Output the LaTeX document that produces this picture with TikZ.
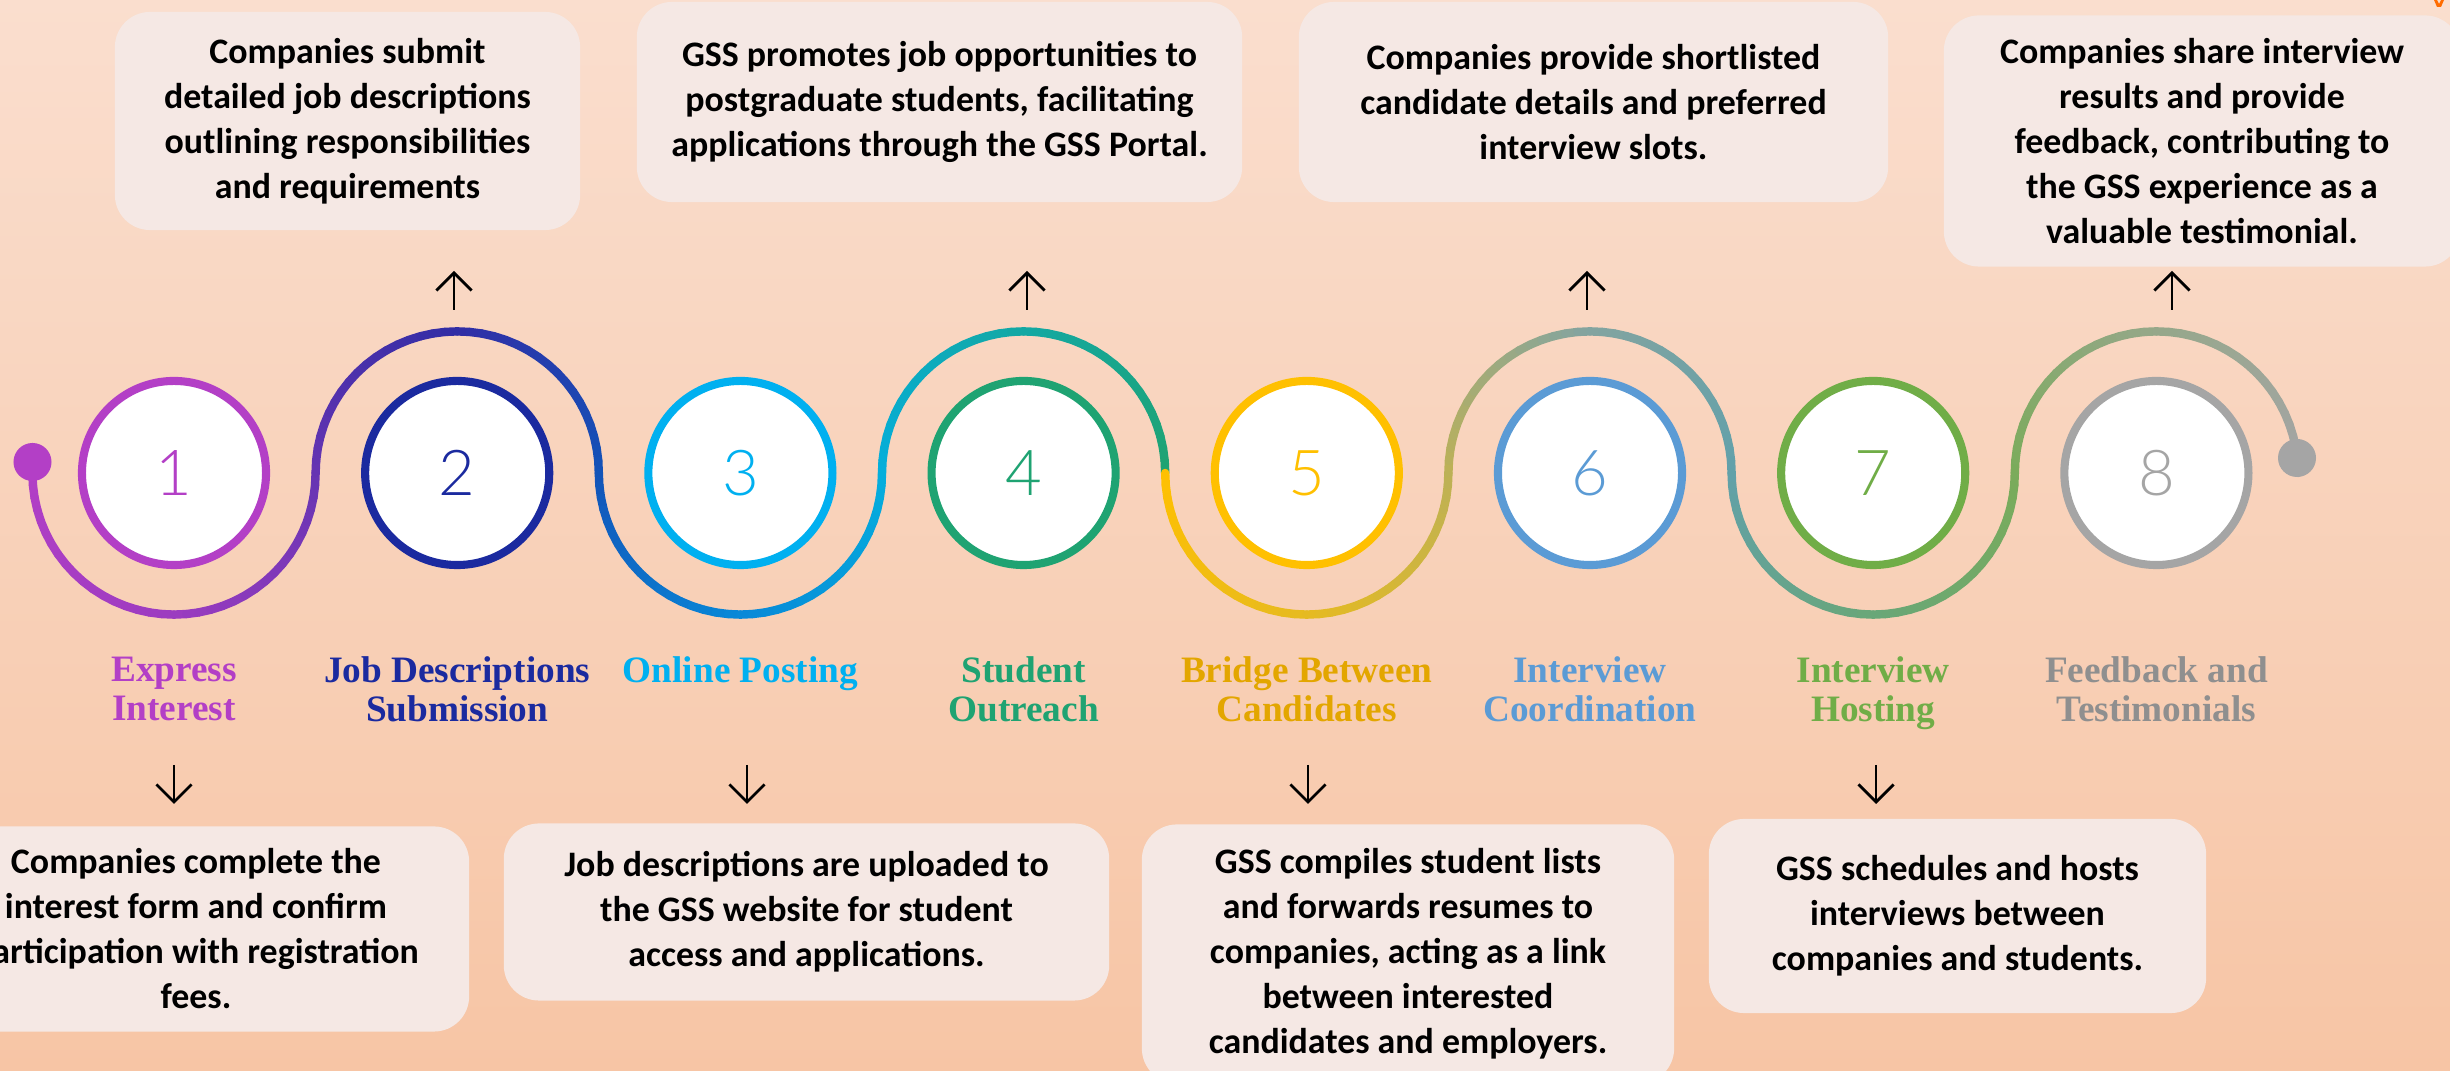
\documentclass[tikz,border=0pt]{standalone}
\usepackage{fontspec}
\setmainfont{Carlito}
\newfontfamily\labelfont{Liberation Serif}
\newfontfamily\numfont{Lato}[UprightFont={* Light}]
\usetikzlibrary{arrows.meta,positioning}

% step colours
\definecolor{pA}{HTML}{B33FC6}
\definecolor{pB}{HTML}{1B2A9F}
\definecolor{pC}{HTML}{00B0F0}
\definecolor{pD}{HTML}{1FA372}
\definecolor{pE}{HTML}{FFC000}
\definecolor{pF}{HTML}{5B9BD5}
\definecolor{pG}{HTML}{70AD47}
\definecolor{pH}{HTML}{A5A5A5}
\definecolor{lE}{HTML}{E3A600}
\definecolor{lH}{HTML}{8F8F8F}
\definecolor{boxfill}{HTML}{F5E8E4}
\definecolor{bgtop}{HTML}{FADECE}
\definecolor{bgmid}{HTML}{F9D6C0}
\definecolor{bgbot}{HTML}{F7C5A5}

% stops along the snake
\colorlet{j0}{pA}
\colorlet{m1}{pA!85!pB}
\colorlet{j1}{pA!50!pB}
\colorlet{m2}{pB!85!pA}
\colorlet{j2}{pB!70!pC}
\colorlet{m3}{pB!30!pC}
\colorlet{j3}{pC!85!pD}
\colorlet{m4}{pC!40!pD}
\colorlet{j4}{pD}
\colorlet{m5}{pE!85!pF}
\colorlet{j5}{pE!60!pF}
\colorlet{m6}{pE!25!pF}
\colorlet{j6}{pF!70!pG}
\colorlet{m7}{pF!35!pG}
\colorlet{j7}{pG!80!pH}
\colorlet{m8}{pG!30!pH}
\colorlet{j8}{pH}

% half turn of the snake: centre x, 1 below / -1 above, three colours
\newcommand{\snakearc}[5]{%
  \foreach \k in {0,...,35}{%
    \pgfmathsetmacro{\angA}{180-5*\k}%
    \pgfmathsetmacro{\angB}{175-5*\k}%
    \ifnum\k<18
      \pgfmathtruncatemacro{\pc}{100-100*(\k+0.5)/18}%
      \colorlet{segcol}{#3!\pc!#4}%
    \else
      \pgfmathtruncatemacro{\pc}{100-100*(\k-17.5)/18}%
      \colorlet{segcol}{#4!\pc!#5}%
    \fi
    \draw[snakeline, segcol] ({#1+141.6*cos(\angA)},{473+(#2)*141.6*sin(\angA)}) -- ({#1+141.6*cos(\angB)},{473+(#2)*141.6*sin(\angB)});
  }%
}

\begin{document}
\begin{tikzpicture}[x=0.01cm, y=-0.01cm,
    ring/.style={circle, draw=#1, fill=white, line width=2.3pt, minimum size=1.84cm, inner sep=0pt, text=#1, font=\numfont\fontsize{18pt}{18pt}\selectfont},
    steplabel/.style={text=#1, font=\labelfont\bfseries\fontsize{10.6pt}{11.1pt}\selectfont, align=center, anchor=north, inner sep=0pt},
    descbox/.style={fill=boxfill, rounded corners=10pt, align=center, font=\bfseries\fontsize{10.2pt}{12.8pt}\selectfont, inner sep=0pt},
    arr/.style={draw=black, line width=0.8pt, -{Straight Barb[length=5pt,width=10pt]}},
    snakeline/.style={line width=2.4pt, line cap=round}]

    \useasboundingbox (0,0) rectangle (2450,1071);
    \clip (0,0) rectangle (2450,1071);

    % background
    \shade[top color=bgtop, middle color=bgmid, bottom color=bgbot] (0,0) rectangle (2450,1071);
    \fill[orange!85!red] (2434,0) -- (2437,7) -- (2441,7) -- (2444,0) -- (2441,0) -- (2439,4) -- (2437,0) -- cycle;

    % boxes above
    \node[descbox, minimum width=4.65cm, minimum height=2.18cm] (b2) at (347.5,121) {Companies submit\\detailed job descriptions\\outlining responsibilities\\and requirements};
    \node[descbox, minimum width=6.05cm, minimum height=2.0cm] (b4) at (939.5,102) {GSS promotes job opportunities to\\postgraduate students, facilitating\\applications through the GSS Portal.};
    \node[descbox, minimum width=5.89cm, minimum height=2.0cm] (b6) at (1593.5,102) {Companies provide shortlisted\\candidate details and preferred\\interview slots.};
    \node[descbox, minimum width=5.16cm, minimum height=2.51cm] (b8) at (2202,141) {Companies share interview\\results and provide\\feedback, contributing to\\the GSS experience as a\\valuable testimonial.};

    % boxes below
    \node[descbox, minimum width=5.46cm, minimum height=2.05cm] (b1) at (196,929) {Companies complete the\\interest form and confirm\\participation with registration\\fees.};
    \node[descbox, minimum width=6.05cm, minimum height=1.77cm] (b3) at (806.5,912) {Job descriptions are uploaded to\\the GSS website for student\\access and applications.};
    \node[descbox, minimum width=5.32cm, minimum height=2.59cm] (b5) at (1408,954) {GSS compiles student lists\\and forwards resumes to\\companies, acting as a link\\between interested\\candidates and employers.};
    \node[descbox, minimum width=4.97cm, minimum height=1.94cm] (b7) at (1957.5,916) {GSS schedules and hosts\\interviews between\\companies and students.};

    % the snake
    \snakearc{174}{1}{j0}{m1}{j1}
    \snakearc{457.2}{-1}{j1}{m2}{j2}
    \snakearc{740.4}{1}{j2}{m3}{j3}
    \snakearc{1023.6}{-1}{j3}{m4}{j4}
    \snakearc{1306.8}{1}{pE}{m5}{j5}
    \snakearc{1590}{-1}{j5}{m6}{j6}
    \snakearc{1873.2}{1}{j6}{m7}{j7}
    \snakearc{2156.4}{-1}{j7}{m8}{j8}
    \node[circle, fill=pA, minimum size=0.38cm, inner sep=0pt] (dotL) at (32.5,462) {};
    \node[circle, fill=pH, minimum size=0.38cm, inner sep=0pt] (dotR) at (2297,458) {};

    % step circles
    \node[ring=pA] (n1) at (174,473) {1};
    \node[ring=pB] (n2) at (457.2,473) {2};
    \node[ring=pC] (n3) at (740.4,473) {3};
    \node[ring=pD] (n4) at (1023.6,473) {4};
    \node[ring=pE] (n5) at (1306.8,473) {5};
    \node[ring=pF] (n6) at (1590,473) {6};
    \node[ring=pG] (n7) at (1873.2,473) {7};
    \node[ring=pH] (n8) at (2156.4,473) {8};

    % step names
    \node[steplabel=pA] (l1) at (174,656) {Express\\Interest};
    \node[steplabel=pB] (l2) at (457.2,656) {Job Descriptions\\Submission};
    \node[steplabel=pC] (l3) at (740.4,656) {Online Posting};
    \node[steplabel=pD] (l4) at (1023.6,656) {Student\\Outreach};
    \node[steplabel=lE] (l5) at (1306.8,656) {Bridge Between\\Candidates};
    \node[steplabel=pF] (l6) at (1590,656) {Interview\\Coordination};
    \node[steplabel=pG] (l7) at (1873.2,656) {Interview\\Hosting};
    \node[steplabel=lH] (l8) at (2156.4,656) {Feedback and\\Testimonials};

    % arrows
    \coordinate (a2s) at (454,310);  \coordinate (a2e) at (454,271);
    \coordinate (a4s) at (1027,310); \coordinate (a4e) at (1027,271);
    \coordinate (a6s) at (1587,310); \coordinate (a6e) at (1587,271);
    \coordinate (a8s) at (2172,310); \coordinate (a8e) at (2172,271);
    \coordinate (a1s) at (174,765);  \coordinate (a1e) at (174,804);
    \coordinate (a3s) at (747,765);  \coordinate (a3e) at (747,804);
    \coordinate (a5s) at (1308,765); \coordinate (a5e) at (1308,804);
    \coordinate (a7s) at (1876,765); \coordinate (a7e) at (1876,804);
    \draw[arr] (a2s) -- (a2e);
    \draw[arr] (a4s) -- (a4e);
    \draw[arr] (a6s) -- (a6e);
    \draw[arr] (a8s) -- (a8e);
    \draw[arr] (a1s) -- (a1e);
    \draw[arr] (a3s) -- (a3e);
    \draw[arr] (a5s) -- (a5e);
    \draw[arr] (a7s) -- (a7e);

\end{tikzpicture}
\end{document}
